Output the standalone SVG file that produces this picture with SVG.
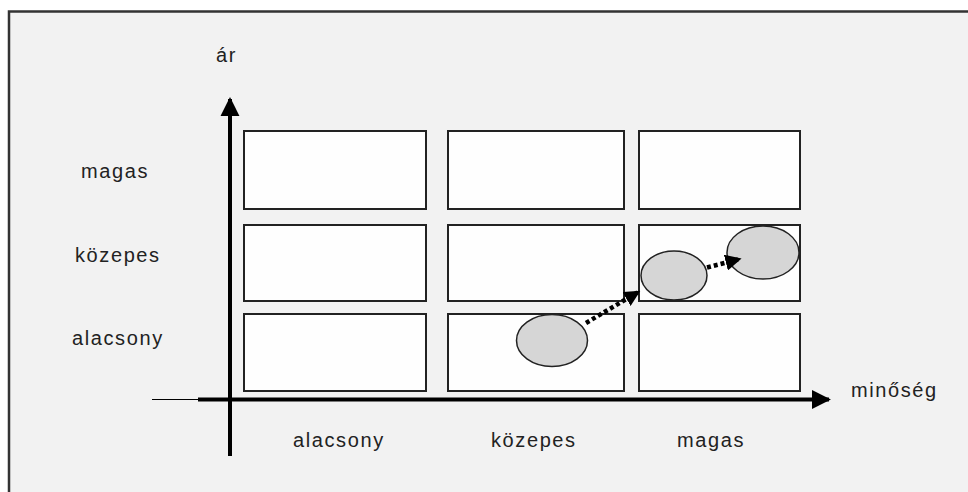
<svg xmlns="http://www.w3.org/2000/svg" width="968" height="492" viewBox="0 0 968 492">
  <defs>
    <style>
      .cell { fill: #fefefe; stroke: #222; stroke-width: 2; }
      .blob { fill: #d6d6d6; stroke: #222; stroke-width: 1.5; }
      .axis { stroke: #000; stroke-width: 4; fill: none; }
      .move { stroke: #000; stroke-width: 4.5; stroke-dasharray: 4 3; fill: none; }
      .lbl { font-family: "Liberation Sans", Arial, sans-serif; font-size: 20px; fill: #222; letter-spacing: 1.6px; }
    </style>
    <marker id="axisHead" viewBox="0 0 10 10" refX="9" refY="5" markerWidth="4.8" markerHeight="4.8" markerUnits="strokeWidth" orient="auto">
      <path d="M0,0 L10,5 L0,10 z" fill="#000"/>
    </marker>
    <marker id="moveHead" viewBox="0 0 10 10" refX="9" refY="5" markerWidth="3.6" markerHeight="3.6" markerUnits="strokeWidth" orient="auto">
      <path d="M0,0 L10,5 L0,10 z" fill="#000"/>
    </marker>
  </defs>

  <!-- frame: background panel with top and left rule -->
  <rect x="8" y="11" width="962" height="483" fill="#f2f2f2"/>
  <path d="M9,495 V11.5 H968" fill="none" stroke="#333" stroke-width="2.5"/>

  <!-- price / quality grid -->
  <g id="cell-low-high"><rect class="cell" x="244" y="131" width="182" height="78"/></g>
  <g id="cell-mid-high"><rect class="cell" x="448" y="131" width="176" height="78"/></g>
  <g id="cell-high-high"><rect class="cell" x="639" y="131" width="161" height="78"/></g>
  <g id="cell-low-mid"><rect class="cell" x="244" y="225" width="182" height="76"/></g>
  <g id="cell-mid-mid"><rect class="cell" x="448" y="225" width="176" height="76"/></g>
  <g id="cell-high-mid"><rect class="cell" x="639" y="225" width="161" height="76"/></g>
  <g id="cell-low-low"><rect class="cell" x="244" y="314" width="182" height="77"/></g>
  <g id="cell-mid-low"><rect class="cell" x="448" y="314" width="176" height="77"/></g>
  <g id="cell-high-low"><rect class="cell" x="639" y="314" width="161" height="77"/></g>

  <!-- positions -->
  <g id="pos-1"><ellipse class="blob" cx="552" cy="340.5" rx="35.5" ry="26"/></g>
  <g id="pos-2"><ellipse class="blob" cx="674" cy="275.5" rx="33" ry="24.5"/></g>
  <g id="pos-3"><ellipse class="blob" cx="763" cy="252.5" rx="36" ry="26.5"/></g>

  <!-- axes and movement arrows -->
  <g id="connectors">
    <line x1="152" y1="399.5" x2="200" y2="399.5" stroke="#000" stroke-width="1.2"/>
    <line class="axis" x1="198" y1="399.5" x2="829" y2="399.5" marker-end="url(#axisHead)"/>
    <line class="axis" x1="230" y1="456" x2="230" y2="99" marker-end="url(#axisHead)"/>
    <line class="move" x1="586" y1="323" x2="639" y2="291.5" marker-end="url(#moveHead)"/>
    <line class="move" x1="707" y1="267.5" x2="740" y2="259" marker-end="url(#moveHead)"/>
  </g>

  <!-- axis labels -->
  <g id="labels">
    <text class="lbl" x="216" y="62" letter-spacing="0.5">ár</text>
    <text class="lbl" x="851" y="397">minőség</text>
    <text class="lbl" x="81" y="178">magas</text>
    <text class="lbl" x="75" y="262">közepes</text>
    <text class="lbl" x="72" y="345">alacsony</text>
    <text class="lbl" x="293" y="447">alacsony</text>
    <text class="lbl" x="491" y="447">közepes</text>
    <text class="lbl" x="677" y="447">magas</text>
  </g>
</svg>
